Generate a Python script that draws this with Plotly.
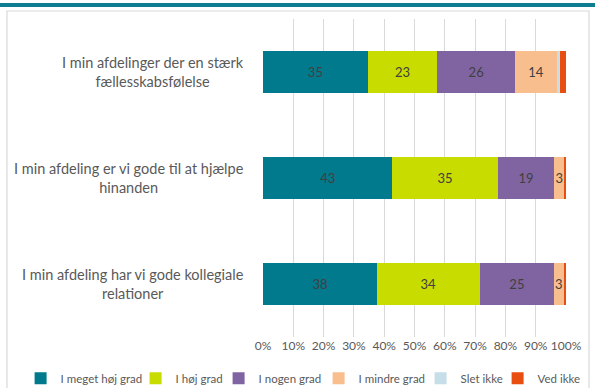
import plotly.graph_objects as go

categories = [
    "I min afdelinger der en stærk<br>fællesskabsfølelse",
    "I min afdeling er vi gode til at hjælpe<br>hinanden",
    "I min afdeling har vi gode kollegiale<br>relationer",
]
series_names = ["I meget høj grad", "I høj grad", "I nogen grad", "I mindre grad", "Slet ikke", "Ved ikke"]
meget_hoej = [34.6, 42.7, 37.6]
hoej = [22.9, 34.7, 33.9]
nogen = [25.7, 18.8, 24.6]
mindre = [13.8, 3.1, 3.1]
slet_ikke = [1.1, 0.0, 0.0]
ved_ikke = [1.9, 0.9, 0.9]
tick_vals = [0, 10, 20, 30, 40, 50, 60, 70, 80, 90, 100]
tick_text = [f"{v}%" for v in tick_vals]

colors = ["#007A8C", "#C8DC00", "#8064A2", "#F9BE8E", "#C6DEE8", "#E84E10"]
values = [meget_hoej, hoej, nogen, mindre, slet_ikke, ved_ikke]
show_labels = [True, True, True, True, False, False]
legend_widths = [70, 38, 55, 57, 32, 42]

FONT = "Lato"

fig = go.Figure()
for name, vals, col, lab, lw in zip(series_names, values, colors, show_labels, legend_widths):
    fig.add_trace(go.Bar(
        y=categories, x=vals, name=name, orientation="h",
        marker=dict(color=col, line=dict(width=0)),
        text=[f"{round(v)}" for v in vals] if lab else None,
        textposition="inside" if lab else "none",
        insidetextanchor="middle",
        textfont=dict(family=FONT, size=13, color="#404040"),
        hoverinfo="skip",
        legendwidth=lw,
    ))

fig.update_layout(
    width=600, height=388,
    barmode="stack", bargap=0.6,
    margin=dict(l=263, r=34, t=19, b=51, autoexpand=False),
    plot_bgcolor="white", paper_bgcolor="white",
    font=dict(family=FONT, color="#595959"),
    uniformtext=dict(mode="show", minsize=8),
    xaxis=dict(range=[0, 100], tickvals=tick_vals, ticktext=tick_text,
               showgrid=True, gridcolor="#D9D9D9", gridwidth=1, zeroline=False,
               showline=False, tickfont=dict(family=FONT, size=12, color="#595959"),
               ticks="", ticklen=0),
    yaxis=dict(autorange="reversed", showticklabels=False, showgrid=False, zeroline=False,
               showline=False, categoryorder="array", categoryarray=categories),
    legend=dict(orientation="h", x=-0.80, xanchor="left", y=-0.084, yanchor="top",
                font=dict(family=FONT, size=11.5, color="#595959"), traceorder="normal",
                tracegroupgap=0, itemwidth=30),
    showlegend=True,
)

for cat in categories:
    fig.add_annotation(x=-0.055, xref="paper", y=cat, yref="y", text=cat,
                       showarrow=False, xanchor="right", align="center",
                       font=dict(family=FONT, size=14.5, color="#595959"))

# teal header band and outer frame
fig.add_shape(type="rect", xref="paper", yref="paper", x0=-0.87, x1=1.0957, y0=1.0377, y1=1.0503,
              fillcolor="#0E7D91", line=dict(width=0), layer="below")
fig.add_shape(type="rect", xref="paper", yref="paper", x0=-0.845, x1=1.0759, y0=-0.2, y1=1.0252,
              fillcolor="rgba(0,0,0,0)", line=dict(color="#D9D9D9", width=1.2), layer="below")

fig.write_html("out.html", config={"displayModeBar": False},
               post_script="document.body.style.margin='0px';")
